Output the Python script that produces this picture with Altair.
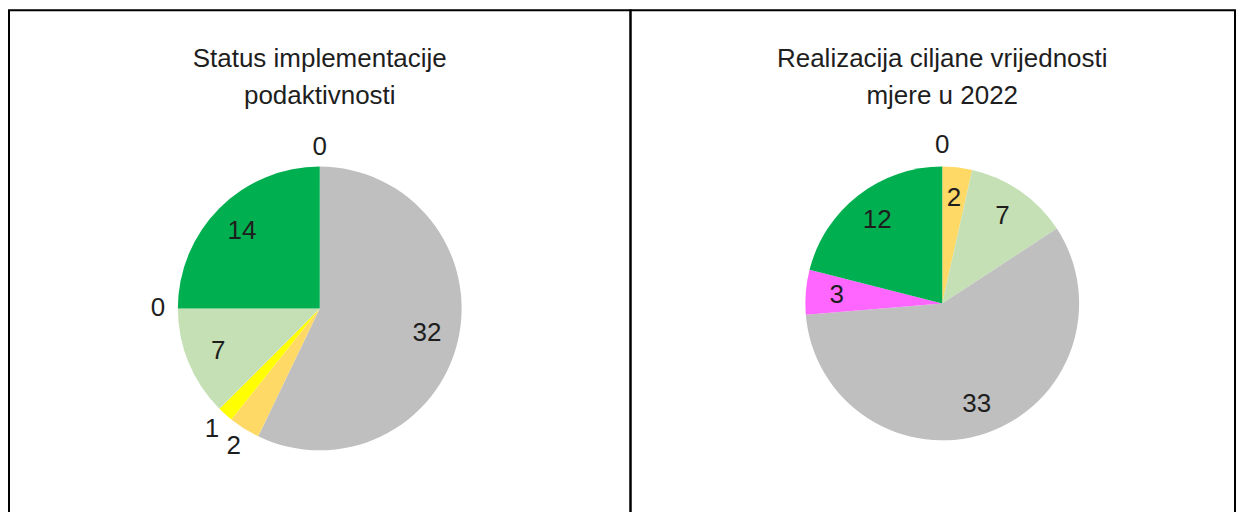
import altair as alt
import pandas as pd

FONT = "Liberation Sans"
TXT = "#1e1e1e"

# ---- data -------------------------------------------------------------
left_title = ["Status implementacije", "podaktivnosti"]
left_categories = ["Kategorija 1", "Kategorija 2", "Kategorija 3", "Kategorija 4",
                   "Kategorija 5", "Kategorija 6", "Kategorija 7"]
left_values = [0, 32, 2, 1, 7, 0, 14]
left_colors = ["#FF66FF", "#BFBFBF", "#FFD966", "#FFFF00", "#C5E0B4", "#FF0000", "#00B050"]

right_title = ["Realizacija ciljane vrijednosti", "mjere u 2022"]
right_categories = ["Kategorija A", "Kategorija B", "Kategorija C", "Kategorija D",
                    "Kategorija E", "Kategorija F"]
right_values = [0, 2, 7, 33, 3, 12]
right_colors = ["#FF0000", "#FFD966", "#C5E0B4", "#BFBFBF", "#FF66FF", "#00B050"]


def pie_panel(title_lines, cats, vals, colors, width, height, radius, cx, cy,
              inside_min, r_in, r_out):
    df = pd.DataFrame({"kategorija": cats, "vrijednost": vals,
                       "redoslijed": list(range(len(cats)))})
    base = alt.Chart(df).transform_calculate(
        unutra=f"datum.vrijednost >= {inside_min} ? format(datum.vrijednost, 'd') : ''",
        vani=f"datum.vrijednost < {inside_min} ? format(datum.vrijednost, 'd') : ''",
    ).encode(
        theta=alt.Theta("vrijednost:Q", stack=True),
        order=alt.Order("redoslijed:Q"),
        x=alt.value(cx),
        y=alt.value(cy),
    )
    pie = base.mark_arc(radius=radius).encode(
        color=alt.Color("kategorija:N", scale=alt.Scale(domain=cats, range=colors),
                        legend=None)
    )
    lab_in = base.mark_text(radius=r_in, font=FONT, fontSize=26, color=TXT,
                            baseline="middle", align="center").encode(text="unutra:N")
    lab_out = base.mark_text(radius=r_out, font=FONT, fontSize=26, color=TXT,
                             baseline="middle", align="center").encode(text="vani:N")
    title = alt.Chart(alt.Data(values=[{"a": 1}])).mark_text(
        text=title_lines, font=FONT, fontSize=26, color=TXT, lineHeight=37,
        baseline="alphabetic", align="center"
    ).encode(x=alt.value(cx), y=alt.value(57))
    return alt.layer(pie, lab_in, lab_out, title).properties(width=width, height=height)


left = pie_panel(left_title, left_categories, left_values, left_colors,
                 622, 510, 142, 311, 298.5, 3, 110, 162)
right = pie_panel(right_title, right_categories, right_values, right_colors,
                  605, 510, 137, 312, 293.5, 1, 106, 159)

chart = alt.hconcat(left, right, spacing=0, bounds="flush").resolve_scale(
    color="independent", theta="independent"
).properties(
    padding={"left": 0, "top": 1, "right": 0, "bottom": 0}
).configure_view(stroke="black", strokeWidth=2)

chart.save("out.html", embed_options={"renderer": "svg", "actions": False})
